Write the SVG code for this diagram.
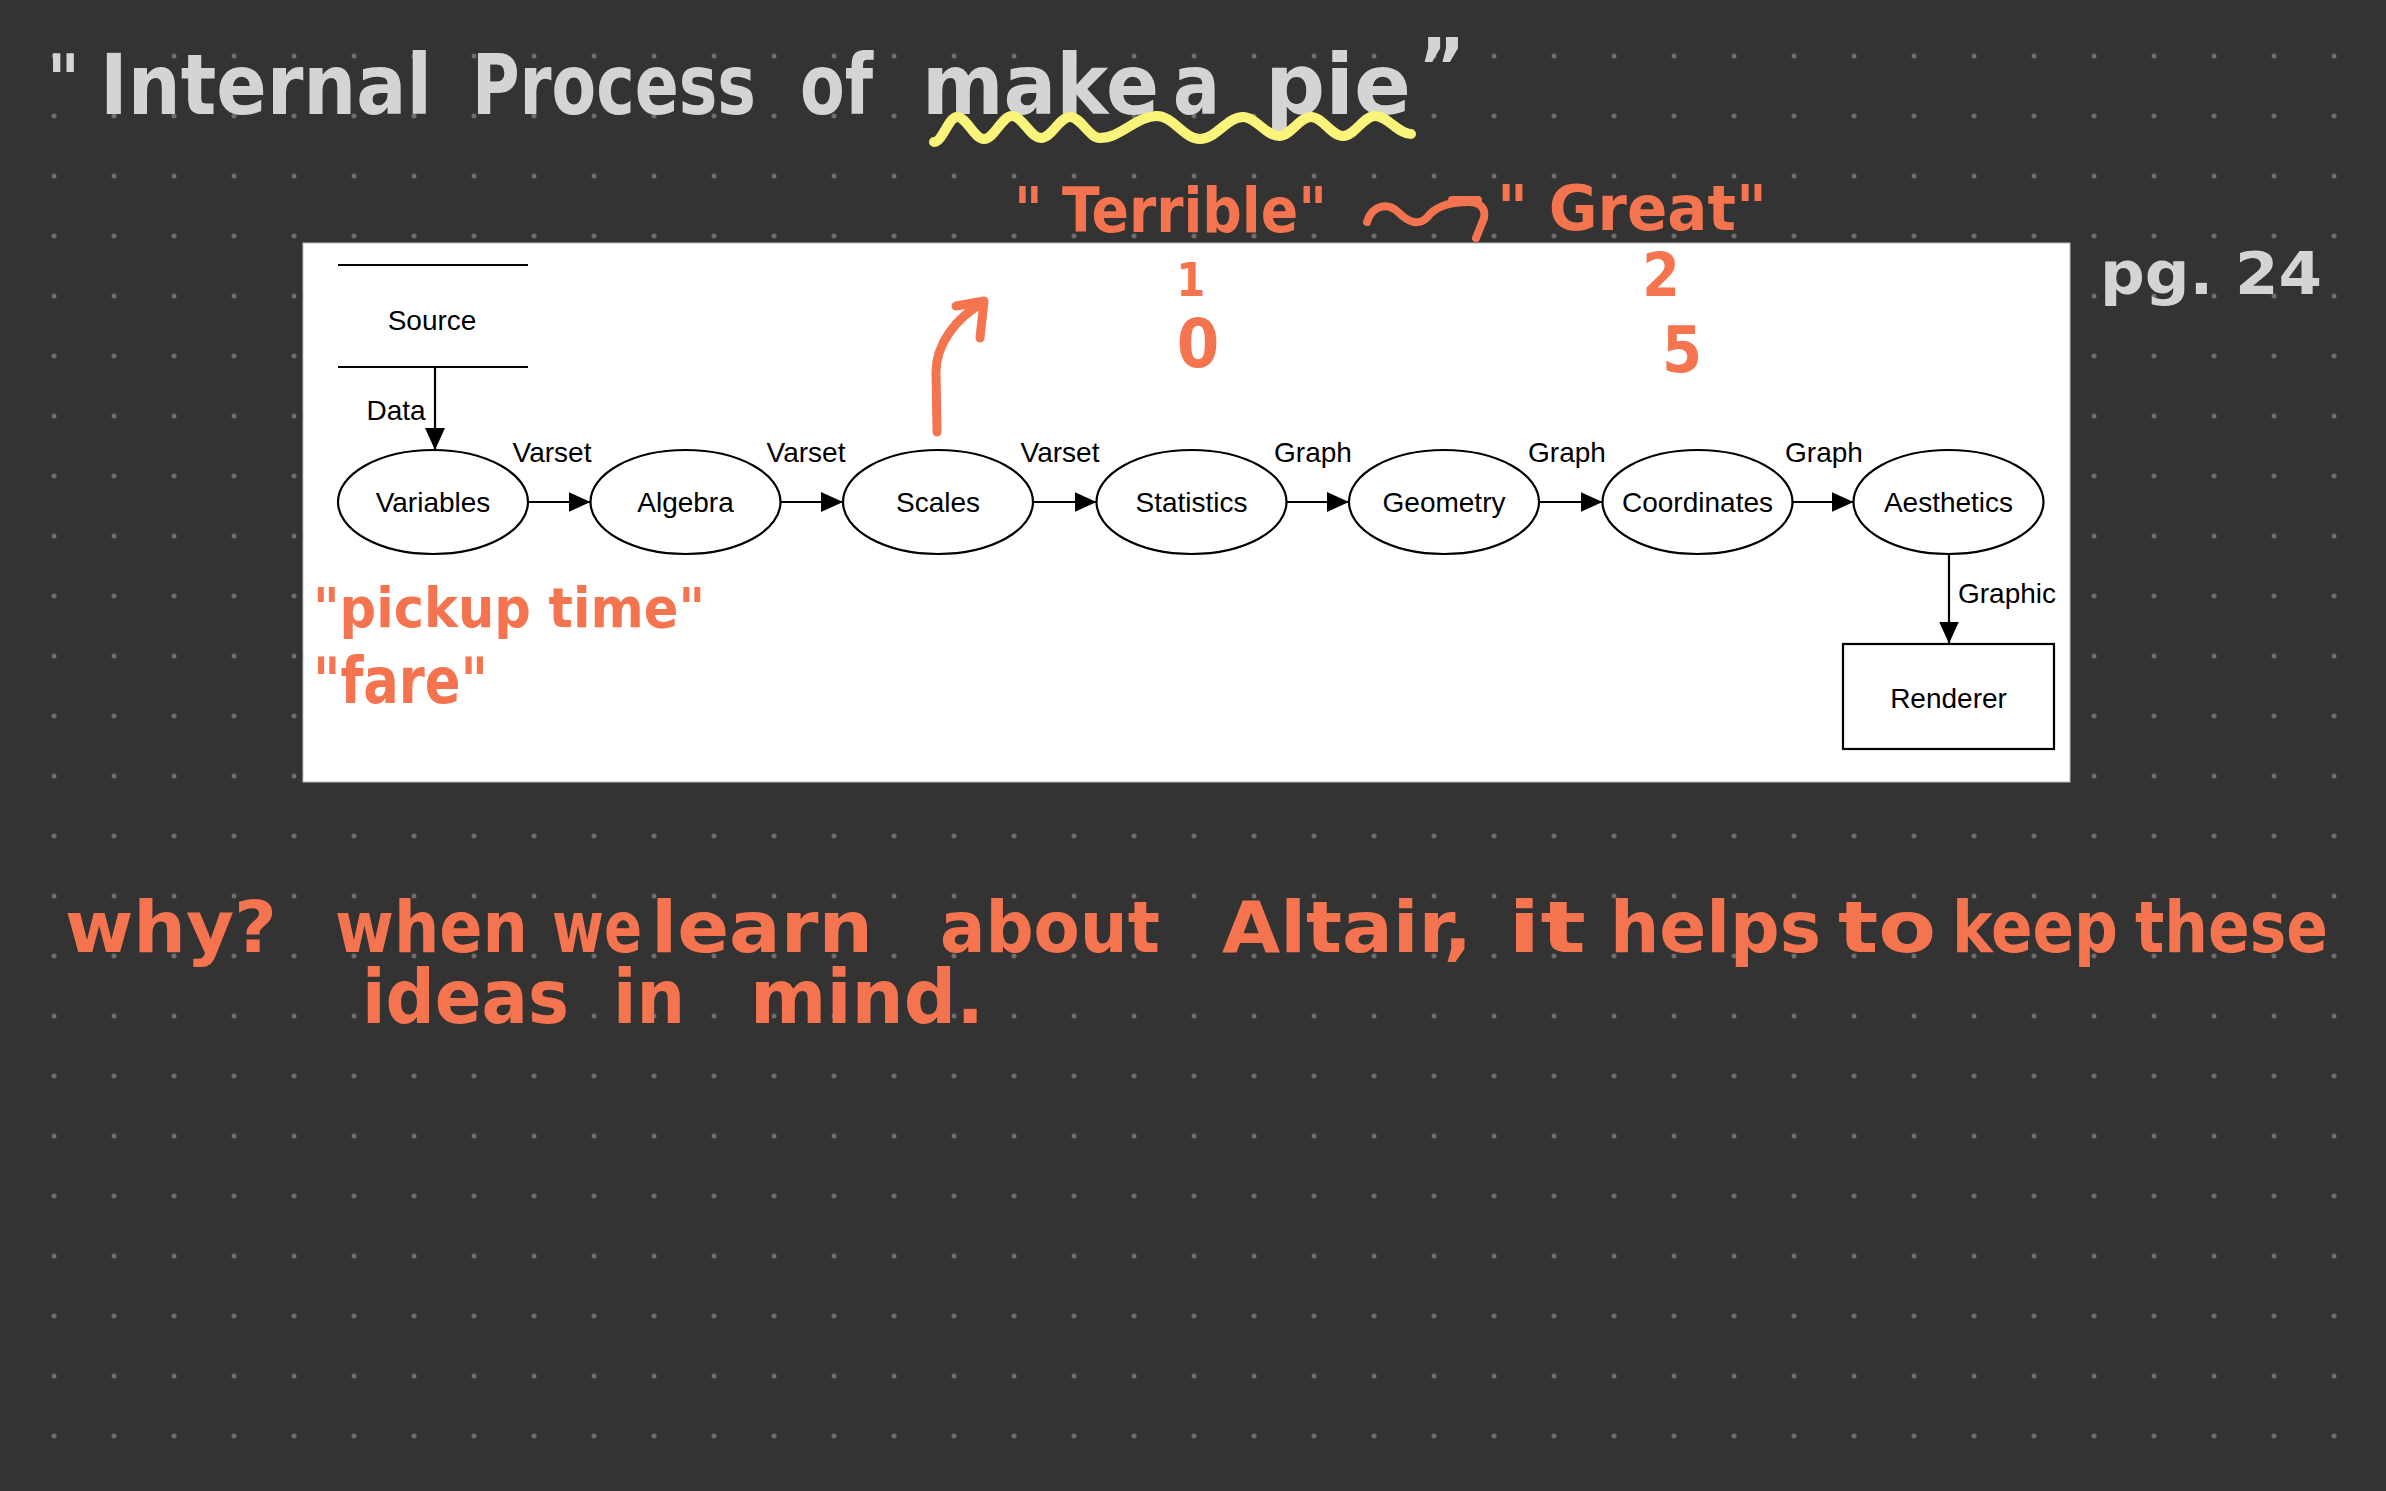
<svg xmlns="http://www.w3.org/2000/svg" width="2386" height="1491" viewBox="0 0 2386 1491">
<defs>
<pattern id="dots" x="24" y="26" width="60" height="60" patternUnits="userSpaceOnUse"><circle cx="30" cy="30" r="2.5" fill="#6e6e6e"/></pattern>
<marker id="ah" markerWidth="22" markerHeight="20" refX="22" refY="10" orient="auto" markerUnits="userSpaceOnUse"><path d="M0,0 L22,10 L0,20 z" fill="#000"/></marker>
<style>
.node ellipse,.node rect{fill:#fff;stroke:#000;stroke-width:2.2}
.lbl{font-family:"Liberation Sans",Arial,sans-serif;font-size:28px;fill:#000}
.mid{text-anchor:middle}
.edge{stroke:#000;stroke-width:2.2;fill:none;marker-end:url(#ah)}
.hw{font-family:"DejaVu Sans",sans-serif;font-weight:bold;font-stretch:condensed}
.grey{fill:#d4d4d4}
.org{fill:#f4744f}
.ink{fill:none;stroke-linecap:round;stroke-linejoin:round}
</style>
</defs>
<rect width="2386" height="1491" fill="#333333"/>
<rect width="2386" height="1491" fill="url(#dots)"/>

<!-- title -->
<g id="title" class="hw grey">
<text x="47" y="104" font-size="70">"</text>
<text x="100" y="114" font-size="84" textLength="332" lengthAdjust="spacingAndGlyphs">Internal</text>
<text x="472" y="114" font-size="84" textLength="284" lengthAdjust="spacingAndGlyphs">Process</text>
<text x="800" y="114" font-size="84" textLength="73" lengthAdjust="spacingAndGlyphs">of</text>
<text x="922" y="114" font-size="84" textLength="237" lengthAdjust="spacingAndGlyphs">make</text>
<text x="1173" y="114" font-size="84" textLength="47" lengthAdjust="spacingAndGlyphs">a</text>
<text x="1265" y="114" font-size="84" textLength="146" lengthAdjust="spacingAndGlyphs">pie</text>
<text x="1418" y="96" font-size="80">”</text>
</g>
<path class="ink" stroke="#fbf47a" stroke-width="10" d="M934,142 C942.4,142 948.6,117 957,117 C966.8,117 974.2,139 984,139 C994.2,139 1001.8,116 1012,116 C1022.6,116 1030.4,138 1041,138 C1051.6,138 1059.4,117 1070,117 C1080.9,117 1089.1,138 1100,138 C1120.7,138 1136.3,116 1157,116 C1172.7,116 1184.3,139 1200,139 C1215.7,139 1227.3,117 1243,117 C1256.1,117 1265.9,136 1279,136 C1290.6,136 1299.4,117 1311,117 C1322.6,117 1331.4,136 1343,136 C1354.6,136 1363.4,116 1375,116 C1388.1,116 1397.9,134 1411,134"/>

<g id="pg" class="hw grey"><text x="2100" y="294" font-size="58" textLength="222" lengthAdjust="spacingAndGlyphs">pg. 24</text></g>

<!-- white panel -->
<rect x="303" y="243" width="1767" height="539" fill="#ffffff" stroke="#bdbdbd" stroke-width="1"/>

<!-- connectors -->
<g id="connectors">
<path class="edge" d="M435,367 L435,450"/>
<path class="edge" d="M528,502 L590.5,502"/>
<path class="edge" d="M780.5,502 L843,502"/>
<path class="edge" d="M1033,502 L1096.5,502"/>
<path class="edge" d="M1286.5,502 L1349,502"/>
<path class="edge" d="M1539,502 L1602.5,502"/>
<path class="edge" d="M1792.5,502 L1853.5,502"/>
<path class="edge" d="M1949,554 L1949,643.5"/>
<text class="lbl mid" x="396" y="420">Data</text>
<text class="lbl mid" x="552" y="462">Varset</text>
<text class="lbl mid" x="806" y="462">Varset</text>
<text class="lbl mid" x="1060" y="462">Varset</text>
<text class="lbl mid" x="1313" y="462">Graph</text>
<text class="lbl mid" x="1567" y="462">Graph</text>
<text class="lbl mid" x="1824" y="462">Graph</text>
<text class="lbl" x="1958" y="603">Graphic</text>
</g>

<!-- nodes -->
<g id="source" class="node">
<line x1="338" y1="265" x2="528" y2="265" stroke="#000" stroke-width="2.2"/>
<line x1="338" y1="367" x2="528" y2="367" stroke="#000" stroke-width="2.2"/>
<text class="lbl mid" x="432" y="330">Source</text>
</g>
<g id="variables" class="node"><ellipse cx="433" cy="502" rx="95" ry="52"/><text class="lbl mid" x="433" y="512">Variables</text></g>
<g id="algebra" class="node"><ellipse cx="685.5" cy="502" rx="95" ry="52"/><text class="lbl mid" x="685.5" y="512">Algebra</text></g>
<g id="scales" class="node"><ellipse cx="938" cy="502" rx="95" ry="52"/><text class="lbl mid" x="938" y="512">Scales</text></g>
<g id="statistics" class="node"><ellipse cx="1191.5" cy="502" rx="95" ry="52"/><text class="lbl mid" x="1191.5" y="512">Statistics</text></g>
<g id="geometry" class="node"><ellipse cx="1444" cy="502" rx="95" ry="52"/><text class="lbl mid" x="1444" y="512">Geometry</text></g>
<g id="coordinates" class="node"><ellipse cx="1697.5" cy="502" rx="95" ry="52"/><text class="lbl mid" x="1697.5" y="512">Coordinates</text></g>
<g id="aesthetics" class="node"><ellipse cx="1948.5" cy="502" rx="95" ry="52"/><text class="lbl mid" x="1948.5" y="512">Aesthetics</text></g>
<g id="renderer" class="node"><rect x="1843" y="644" width="211" height="105"/><text class="lbl mid" x="1948.5" y="708">Renderer</text></g>

<!-- orange annotations -->
<g id="annotations" class="hw org">
<text x="1014" y="232" font-size="62" textLength="313" lengthAdjust="spacingAndGlyphs">" Terrible"</text>
<text x="1497" y="230" font-size="62" textLength="270" lengthAdjust="spacingAndGlyphs">" Great"</text>
<text x="1191" y="296" font-size="46" text-anchor="middle">1</text>
<text x="1198" y="367" font-size="68" text-anchor="middle">0</text>
<text x="1661" y="296" font-size="60" text-anchor="middle">2</text>
<text x="1682" y="372" font-size="64" text-anchor="middle">5</text>
<text x="313" y="627" font-size="56" textLength="392" lengthAdjust="spacingAndGlyphs">"pickup time"</text>
<text x="313" y="703" font-size="64" textLength="175" lengthAdjust="spacingAndGlyphs">"fare"</text>
</g>
<path class="ink" stroke="#f4744f" stroke-width="8" d="M1367,222 C1372,205 1388,202 1398,212 C1408,222 1420,228 1430,214 C1440,204 1455,202 1468,202 C1480,202 1486,208 1484,218 L1476,238 M1452,200 L1478,200"/>
<path class="ink" stroke="#f4744f" stroke-width="9" d="M937,432 L936,372 C936,345 955,318 984,302 M956,306 L984,301 L980,338"/>

<!-- bottom note -->
<g id="note" class="hw org" font-size="72">
<text x="65" y="952" textLength="212" lengthAdjust="spacingAndGlyphs">why?</text>
<text x="335" y="952" textLength="193" lengthAdjust="spacingAndGlyphs">when</text>
<text x="552" y="952" textLength="90" lengthAdjust="spacingAndGlyphs">we</text>
<text x="651" y="952" textLength="222" lengthAdjust="spacingAndGlyphs">learn</text>
<text x="940" y="952" textLength="220" lengthAdjust="spacingAndGlyphs">about</text>
<text x="1222" y="952" textLength="250" lengthAdjust="spacingAndGlyphs">Altair,</text>
<text x="1508" y="952" textLength="78" lengthAdjust="spacingAndGlyphs">it</text>
<text x="1610" y="952" textLength="211" lengthAdjust="spacingAndGlyphs">helps</text>
<text x="1838" y="952" textLength="98" lengthAdjust="spacingAndGlyphs">to</text>
<text x="1952" y="952" textLength="166" lengthAdjust="spacingAndGlyphs">keep</text>
<text x="2135" y="952" textLength="193" lengthAdjust="spacingAndGlyphs">these</text>
<text x="362" y="1023" font-size="74" textLength="207" lengthAdjust="spacingAndGlyphs">ideas</text>
<text x="613" y="1023" font-size="74" textLength="72" lengthAdjust="spacingAndGlyphs">in</text>
<text x="750" y="1023" font-size="74" textLength="234" lengthAdjust="spacingAndGlyphs">mind.</text>
</g>
</svg>
